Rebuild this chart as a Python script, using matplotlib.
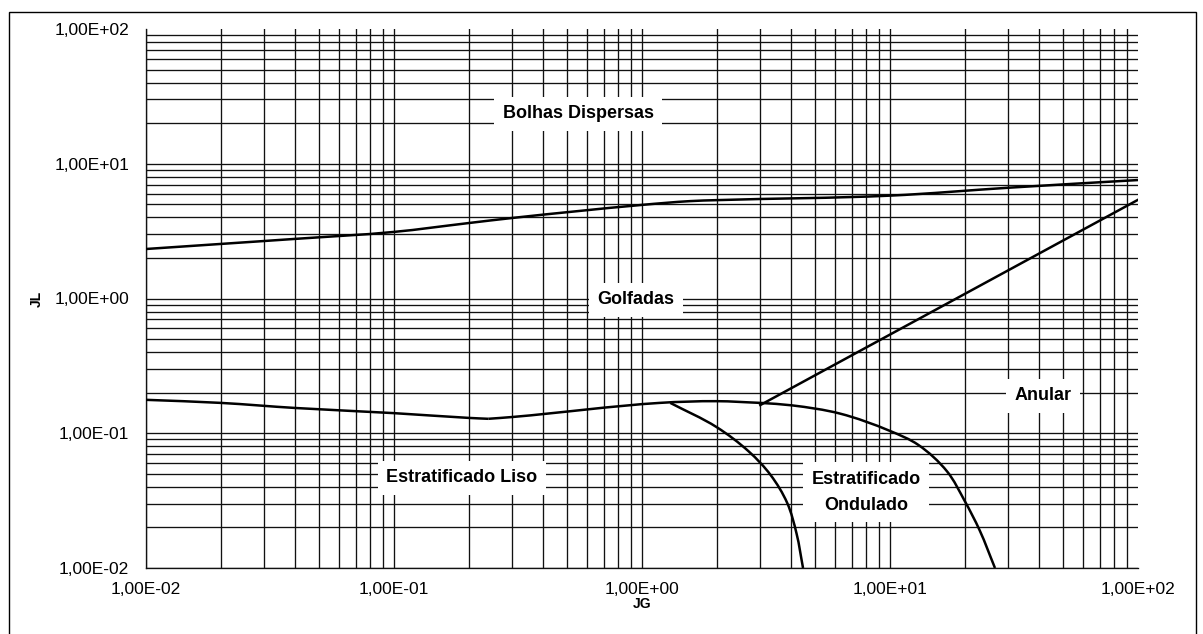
import matplotlib
matplotlib.use("Agg")
import matplotlib.pyplot as plt
import numpy as np
from matplotlib.ticker import FixedLocator, FuncFormatter, NullLocator
from matplotlib.patches import Rectangle, PathPatch
from matplotlib.path import Path

plt.rcParams['font.family'] = ['Liberation Sans', 'DejaVu Sans']

# Dispersed bubbles / slug boundary
jg_bolhas = [0.01, 0.02, 0.04, 0.1, 0.2, 0.3, 1.0, 1.56, 2.0, 10, 30.5, 100]
jl_bolhas = [2.33, 2.54, 2.77, 3.12, 3.63, 3.96, 4.95, 5.28, 5.37, 5.80, 6.65, 7.57]

# Stratified / intermittent boundary (two pieces meeting at the kink)
jg_estrat_a = [0.01, 0.02, 0.04, 0.1, 0.2, 0.24]
jl_estrat_a = [0.177, 0.168, 0.154, 0.141, 0.130, 0.128]
jg_estrat_b = [0.24, 0.3, 1.18, 2.0, 3.0]
jl_estrat_b = [0.128, 0.132, 0.168, 0.173, 0.168]

# Stratified / annular boundary (right branch)
jg_anular_inf = [3.0, 4.03, 6.28, 10, 13.0, 17.0, 20.0, 23.0, 26.5]
jl_anular_inf = [0.168, 0.161, 0.140, 0.104, 0.082, 0.052, 0.0315, 0.019, 0.01]

# Smooth / wavy stratified boundary
jg_ondulado = [1.3, 2.0, 2.7, 3.3, 3.85, 4.2, 4.46]
jl_ondulado = [0.168, 0.111, 0.073, 0.049, 0.0304, 0.018, 0.01]

# Slug / annular boundary (straight line)
jg_anular = [3.0, 100]
jl_anular = [0.162, 5.4]

decades = [1e-2, 1e-1, 1e0, 1e1, 1e2]

fig = plt.figure(figsize=(12.03, 6.34), dpi=100)
ax = fig.add_axes([146 / 1203, 1 - 568 / 634, (1138 - 146) / 1203, (568 - 29) / 634])
ax.set_xscale('log')
ax.set_yscale('log')
ax.set_xlim(1e-2, 1e2)
ax.set_ylim(1e-2, 1e2)

# pixels per decade on each axis, so the smoothing works in screen proportions
bbox = ax.get_position()
aspect = (bbox.height * fig.get_figheight()) / (bbox.width * fig.get_figwidth())


def smooth_path(xs, ys):
    # chord-length Catmull-Rom through the points, built in log space
    p = np.column_stack([np.log10(xs), np.log10(ys) * aspect])
    n = len(p)
    seg = np.diff(p, axis=0)
    L = np.hypot(seg[:, 0], seg[:, 1])
    u = seg / L[:, None]
    t = np.zeros_like(p)
    t[0] = u[0]
    t[-1] = u[-1]
    for i in range(1, n - 1):
        v = u[i - 1] + u[i]
        t[i] = v / np.hypot(*v)
    verts = [p[0]]
    codes = [Path.MOVETO]
    for i in range(n - 1):
        s = L[i] / 3.0
        verts += [p[i] + t[i] * s, p[i + 1] - t[i + 1] * s, p[i + 1]]
        codes += [Path.CURVE4] * 3
    verts = np.array(verts)
    verts[:, 1] /= aspect
    return Path(10 ** verts, codes)


# major + minor grid, drawn by hand so that the 1e2 edges stay open
grid_vals = [k * d for d in decades[:-1] for k in range(1, 10)]
for v in grid_vals:
    ax.axhline(v, color='#111111', lw=0.95, zorder=1)
    ax.axvline(v, color='#111111', lw=0.95, zorder=1)

for s in ['top', 'right']:
    ax.spines[s].set_visible(False)
for s in ['left', 'bottom']:
    ax.spines[s].set_color('#111111')
    ax.spines[s].set_linewidth(0.95)

fmt = FuncFormatter(lambda v, p: ('%.2E' % v).replace('.', ','))
for axis in (ax.xaxis, ax.yaxis):
    axis.set_major_locator(FixedLocator(decades))
    axis.set_minor_locator(NullLocator())
    axis.set_major_formatter(fmt)
ax.tick_params(axis='both', length=0, labelsize=12.5)
ax.tick_params(axis='y', pad=12)
ax.tick_params(axis='x', pad=10)

ax.set_xlabel('JG', fontsize=10, fontweight='bold', labelpad=0)
ax.set_ylabel('JL', fontsize=10, fontweight='bold')
ax.yaxis.set_label_coords(-102 / 992, 0.5)

for xs, ys in [(jg_bolhas, jl_bolhas), (jg_estrat_a, jl_estrat_a),
               (jg_estrat_b, jl_estrat_b), (jg_anular_inf, jl_anular_inf),
               (jg_ondulado, jl_ondulado)]:
    ax.add_patch(PathPatch(smooth_path(xs, ys), facecolor='none',
                           edgecolor='black', lw=1.8, zorder=3))
ax.plot(jg_anular, jl_anular, color='black', lw=1.8, zorder=3)

box = dict(facecolor='white', edgecolor='none', pad=6)
labels = [
    ('Bolhas Dispersas', 0.552, 23.4),
    ('Golfadas', 0.946, 0.975),
    ('Anular', 41.4, 0.189),
    ('Estratificado Liso', 0.188, 0.0466),
    ('Estratificado\nOndulado', 8.0, 0.0366),
]
for txt, x, y in labels:
    ax.text(x, y, txt, ha='center', va='center', fontsize=13, fontweight='bold',
            linespacing=1.7, bbox=box, zorder=4)

# outer frame
fig.patches.append(Rectangle((9 / 1203, -0.01), (1196 - 9) / 1203, 1 - 12 / 634 + 0.01,
                             transform=fig.transFigure, fill=False,
                             edgecolor='black', lw=1.0))

fig.savefig('out.png', dpi=100)
